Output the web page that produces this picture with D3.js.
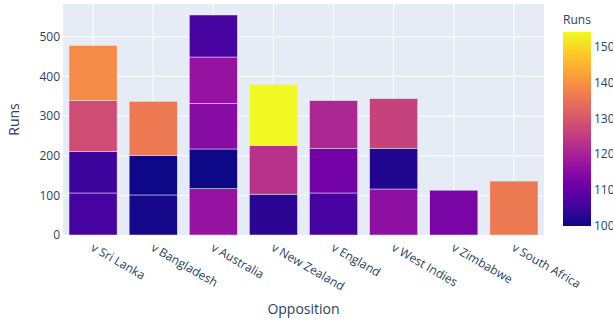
<!DOCTYPE html>
<html>
<head>
<meta charset="utf-8">
<script src="https://cdn.jsdelivr.net/npm/d3@7"></script>
<style>
  html, body { margin: 0; padding: 0; background: #fff; }
  svg { display: block; font-family: "Open Sans", verdana, arial, sans-serif; }
</style>
</head>
<body>
<svg id="chart" width="613" height="320"></svg>
<script>
// Opposition categories in display order
const categories = ["v Sri Lanka", "v Bangladesh", "v Australia", "v New Zealand",
                    "v England", "v West Indies", "v Zimbabwe", "v South Africa"];

// One entry per innings: opponent and runs scored (stacked in this order)
const inningsOpposition = [
  "v Sri Lanka", "v Sri Lanka", "v Sri Lanka", "v Sri Lanka",
  "v Bangladesh", "v Bangladesh", "v Bangladesh",
  "v Australia", "v Australia", "v Australia", "v Australia", "v Australia",
  "v New Zealand", "v New Zealand", "v New Zealand",
  "v England", "v England", "v England",
  "v West Indies", "v West Indies", "v West Indies",
  "v Zimbabwe",
  "v South Africa"
];
const inningsRuns = [
  106, 105, 128, 139,
  101, 100, 136,
  117, 100, 115, 117, 106,
  103, 123, 154,
  106, 112, 121,
  116, 102, 126,
  113,
  136
];

const yTicks = [0, 100, 200, 300, 400, 500];
const colorTicks = [100, 110, 120, 130, 140, 150];

// Plasma colour stops
const plasma = ["#0d0887", "#46039f", "#7201a8", "#9c179e", "#bd3786",
                "#d8576b", "#ed7953", "#fb9f3a", "#fdca26", "#f0f921"];

const svg = d3.select("#chart");
const textColor = "#2a3f5f";
const plot = { left: 63, right: 544, top: 4, bottom: 235 };

// Stack the innings per opponent
const offsets = new Map(categories.map(c => [c, 0]));
const segments = inningsOpposition.map((opp, i) => {
  const y0 = offsets.get(opp);
  const y1 = y0 + inningsRuns[i];
  offsets.set(opp, y1);
  return { opp, runs: inningsRuns[i], y0, y1 };
});
const maxTotal = d3.max(Array.from(offsets.values()));

const x = d3.scaleBand().domain(categories)
  .range([plot.left, plot.right]).paddingInner(0.2).paddingOuter(0.1);
const y = d3.scaleLinear().domain([0, maxTotal * 1.05]).range([plot.bottom, plot.top]);

const cmin = d3.min(inningsRuns), cmax = d3.max(inningsRuns);
const color = d3.scaleLinear()
  .domain(plasma.map((_, i) => cmin + (cmax - cmin) * i / (plasma.length - 1)))
  .range(plasma).interpolate(d3.interpolateRgb);

// Plot background
svg.append("rect")
  .attr("x", plot.left).attr("y", plot.top)
  .attr("width", plot.right - plot.left).attr("height", plot.bottom - plot.top)
  .attr("fill", "#E5ECF6");

// Gridlines
svg.append("g").selectAll("line").data(yTicks.filter(t => t > 0)).join("line")
  .attr("x1", plot.left).attr("x2", plot.right)
  .attr("y1", d => y(d)).attr("y2", d => y(d))
  .attr("stroke", "#fff").attr("stroke-width", 1);
svg.append("g").selectAll("line").data(categories).join("line")
  .attr("x1", d => x(d) + x.bandwidth() / 2).attr("x2", d => x(d) + x.bandwidth() / 2)
  .attr("y1", plot.top).attr("y2", plot.bottom)
  .attr("stroke", "#fff").attr("stroke-width", 1);

// Stacked bars
svg.append("g").selectAll("rect").data(segments).join("rect")
  .attr("x", d => x(d.opp))
  .attr("width", x.bandwidth())
  .attr("y", d => y(d.y1))
  .attr("height", d => y(d.y0) - y(d.y1))
  .attr("fill", d => color(d.runs))
  .attr("stroke", "#E5ECF6").attr("stroke-width", 0.5);

// Y axis
const yAxis = d3.axisLeft(y).tickValues(yTicks).tickSize(0).tickPadding(3);
const gy = svg.append("g").attr("transform", `translate(${plot.left},0)`).call(yAxis);
gy.select(".domain").remove();
gy.selectAll("text").attr("fill", textColor).attr("font-size", 12)
  .attr("font-family", "'Open Sans', verdana, arial, sans-serif");

// X axis with rotated labels
const xAxis = d3.axisBottom(x).tickSize(0);
const gx = svg.append("g").attr("transform", `translate(0,${plot.bottom})`).call(xAxis);
gx.select(".domain").remove();
gx.selectAll("text")
  .attr("fill", textColor).attr("font-size", 12)
  .attr("font-family", "'Open Sans', verdana, arial, sans-serif")
  .attr("text-anchor", "start")
  .attr("y", 0).attr("dy", 0)
  .attr("transform", "translate(-3,15) rotate(30)");

// Axis titles
svg.append("text")
  .attr("x", (plot.left + plot.right) / 2).attr("y", 314)
  .attr("text-anchor", "middle").attr("fill", textColor).attr("font-size", 14)
  .text("Opposition");
svg.append("text")
  .attr("transform", `translate(19,${(plot.top + plot.bottom) / 2}) rotate(-90)`)
  .attr("text-anchor", "middle").attr("fill", textColor).attr("font-size", 14)
  .text("Runs");

// Colour bar
const cb = { x: 563, w: 28, top: 32, bottom: 226 };
const defs = svg.append("defs");
const grad = defs.append("linearGradient").attr("id", "plasmaGrad")
  .attr("x1", 0).attr("y1", 1).attr("x2", 0).attr("y2", 0);
grad.selectAll("stop").data(plasma).join("stop")
  .attr("offset", (_, i) => i / (plasma.length - 1))
  .attr("stop-color", d => d);
svg.append("rect")
  .attr("x", cb.x).attr("y", cb.top).attr("width", cb.w).attr("height", cb.bottom - cb.top)
  .attr("fill", "url(#plasmaGrad)");

const cy = d3.scaleLinear().domain([cmin, cmax]).range([cb.bottom, cb.top]);
const cAxis = d3.axisRight(cy).tickValues(colorTicks).tickSize(0).tickPadding(3);
const gc = svg.append("g").attr("transform", `translate(${cb.x + cb.w},0)`).call(cAxis);
gc.select(".domain").remove();
gc.selectAll("text").attr("fill", textColor).attr("font-size", 12)
  .attr("font-family", "'Open Sans', verdana, arial, sans-serif");

svg.append("text")
  .attr("x", cb.x).attr("y", 24)
  .attr("fill", textColor).attr("font-size", 12)
  .text("Runs");
</script>
</body>
</html>
